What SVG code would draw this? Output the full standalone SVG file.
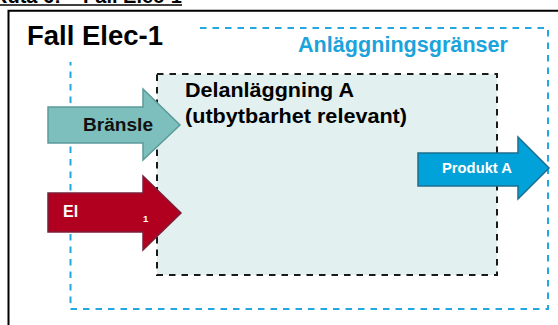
<svg xmlns="http://www.w3.org/2000/svg" width="558" height="325" viewBox="0 0 558 325">
  <style>
    .t { font-family: "Liberation Sans", Arial, sans-serif; font-weight: bold; }
    .frame { fill: none; stroke: #000; stroke-width: 2; }
    .site { fill: none; stroke: #22a8e0; stroke-width: 2; stroke-dasharray: 6.5 6; }
    .unit { fill: #e2f0f0; stroke: #1a1a1a; stroke-width: 2; stroke-dasharray: 6.5 6; }
  </style>

  <rect width="558" height="325" fill="#ffffff"/>

  <!-- clipped caption above the frame -->
  <text class="t" x="182" y="3" font-size="20" text-anchor="end" fill="#000">Ruta 6: – Fall Elec-1</text>
  <line x1="0" y1="5" x2="182" y2="5" stroke="#000" stroke-width="1.4"/>

  <!-- outer frame -->
  <path class="frame" d="M8.5,326 V10.7 H559"/>

  <g id="title">
    <text class="t" x="27" y="45" font-size="27.5" fill="#000">Fall Elec-1</text>
  </g>

  <!-- site boundary (open at the top-left corner where the title sits) -->
  <g id="site-boundary">
    <path class="site" d="M200,28 H548 V309 H70.5 V62"/>
    <text class="t" x="298" y="52" font-size="22" fill="#1ba3dc" textLength="210" lengthAdjust="spacingAndGlyphs">Anläggningsgränser</text>
  </g>

  <!-- sub-installation -->
  <g id="sub-installation">
    <rect class="unit" x="157" y="74" width="340" height="201"/>
    <text class="t" x="185" y="97" font-size="20" fill="#000" textLength="169" lengthAdjust="spacingAndGlyphs">Delanläggning A</text>
    <text class="t" x="185" y="123" font-size="20" fill="#000" textLength="222" lengthAdjust="spacingAndGlyphs">(utbytbarhet relevant)</text>
  </g>

  <!-- flows -->
  <g id="connectors">
    <g id="fuel">
      <path d="M48,107 H143 V89 L180,125 L143,160 V143 H48 Z" fill="#7dbfbd" stroke="#5b9a99" stroke-width="1.5"/>
      <text class="t" x="83" y="131" font-size="17.5" fill="#111" textLength="70" lengthAdjust="spacingAndGlyphs">Bränsle</text>
    </g>
    <g id="electricity">
      <path d="M48,193 H143 V176 L181,213 L143,250 V232 H48 Z" fill="#b1001f" stroke="#7b2038" stroke-width="1.5"/>
      <text class="t" x="63" y="217" font-size="16" fill="#fff">El</text>
      <text class="t" x="143" y="222" font-size="9.5" fill="#fff">1</text>
    </g>
    <g id="product">
      <path d="M418,153 H518 V137 L549,168 L518,199 V186 H418 Z" fill="#00a2d9" stroke="#1e6d8f" stroke-width="1.5"/>
      <text class="t" x="442" y="173" font-size="15" fill="#fff" textLength="70" lengthAdjust="spacingAndGlyphs">Produkt A</text>
    </g>
  </g>
</svg>
